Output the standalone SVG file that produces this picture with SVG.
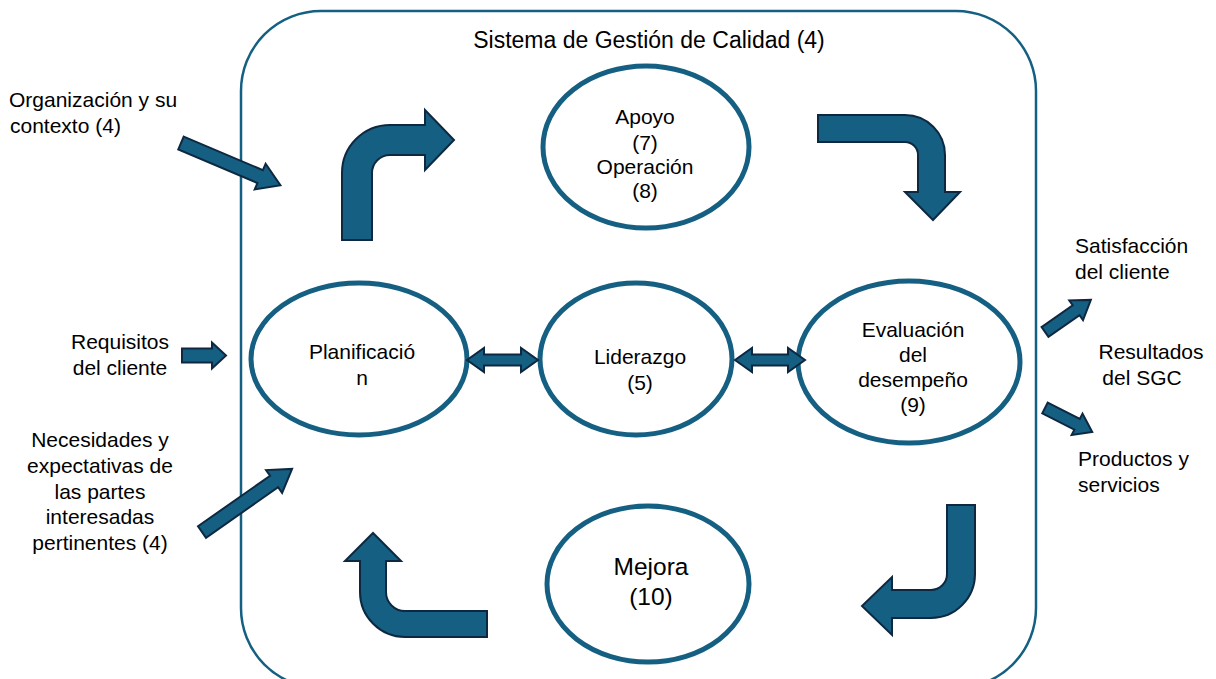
<svg xmlns="http://www.w3.org/2000/svg" width="1216" height="679" viewBox="0 0 1216 679">
<style>
.t{font-family:"Liberation Sans",Arial,sans-serif;font-size:21px;fill:#000}
.c{text-anchor:middle}
.e{fill:#fff;stroke:#156082;stroke-width:5}
.a{fill:#156082;stroke:#0e2841;stroke-width:2;stroke-linejoin:miter}
</style>
<rect width="1216" height="679" fill="#fff"/>
<g id="sistema">
<rect x="241" y="11" width="795" height="677" rx="80" ry="80" fill="none" stroke="#156082" stroke-width="2.5"/>
<text class="t c" x="649" y="48" style="font-size:23px">Sistema de Gestión de Calidad (4)</text>
</g>
<g id="apoyo">
<ellipse class="e" cx="646" cy="147" rx="103" ry="81"/>
<text class="t c" x="645" y="124">Apoyo</text>
<text class="t c" x="645" y="150">(7)</text>
<text class="t c" x="645" y="174">Operación</text>
<text class="t c" x="645" y="198">(8)</text>
</g>
<g id="planificacion">
<ellipse class="e" cx="359" cy="359" rx="108" ry="76"/>
<text class="t c" x="362" y="359">Planificació</text>
<text class="t c" x="362" y="385">n</text>
</g>
<g id="liderazgo">
<ellipse class="e" cx="636" cy="359" rx="96" ry="76"/>
<text class="t c" x="640" y="364">Liderazgo</text>
<text class="t c" x="640" y="390">(5)</text>
</g>
<g id="evaluacion">
<ellipse class="e" cx="909" cy="362" rx="111" ry="81"/>
<text class="t c" x="913" y="337">Evaluación</text>
<text class="t c" x="913" y="362">del</text>
<text class="t c" x="913" y="387">desempeño</text>
<text class="t c" x="913" y="412">(9)</text>
</g>
<g id="mejora">
<ellipse class="e" cx="648" cy="584" rx="101" ry="78"/>
<text class="t c" x="651" y="575" style="font-size:24.5px">Mejora</text>
<text class="t c" x="651" y="605" style="font-size:24.5px">(10)</text>
</g>
<g id="entradas">
<text class="t" x="9" y="107">Organización y su</text>
<text class="t" x="10" y="133">contexto (4)</text>
<text class="t c" x="120" y="349">Requisitos</text>
<text class="t c" x="120" y="375">del cliente</text>
<text class="t c" x="100" y="447">Necesidades y</text>
<text class="t c" x="100" y="473">expectativas de</text>
<text class="t c" x="100" y="499">las partes</text>
<text class="t c" x="100" y="524">interesadas</text>
<text class="t c" x="100" y="550">pertinentes (4)</text>
</g>
<g id="salidas">
<text class="t" x="1075" y="253">Satisfacción</text>
<text class="t" x="1075" y="279">del cliente</text>
<text class="t c" x="1151" y="359">Resultados</text>
<text class="t c" x="1142" y="385">del SGC</text>
<text class="t" x="1078" y="466">Productos y</text>
<text class="t" x="1078" y="492">servicios</text>
</g>
<g id="conectores">
<path class="a" d="M342,240 L342,173 A48,48 0 0 1 390,125 L425,125 L425,110 L454,140 L425,170 L425,155 L390,155 A18,18 0 0 0 372,173 L372,240 Z"/>
<path class="a" d="M818,115 L905,115 A40,40 0 0 1 945,155 L945,192 L960,192 L933,220 L905,192 L918,192 L918,155 A13,13 0 0 0 905,142 L818,142 Z"/>
<path class="a" d="M947,505 L975,505 L975,574 A44,44 0 0 1 931,618 L892,618 L892,635 L862,606 L892,577 L892,590 L931,590 A16,16 0 0 0 947,574 Z"/>
<path class="a" d="M487,611 L487,637 L405,637 A45,45 0 0 1 360,592 L360,561 L345,561 L373,533 L401,561 L386,561 L386,592 A19,19 0 0 0 405,611 Z"/>
<path class="a" transform="translate(181,143) rotate(23)" d="M0,-7 L86,-7 L86,-14 L108,0 L86,14 L86,7 L0,7 Z"/>
<path class="a" transform="translate(182,355.5)" d="M0,-7 L30,-7 L30,-13 L44,0 L30,13 L30,7 L0,7 Z"/>
<path class="a" transform="translate(202,532) rotate(-35)" d="M0,-7 L88,-7 L88,-14 L110,0 L88,14 L88,7 L0,7 Z"/>
<path class="a" transform="translate(1045,332) rotate(-35)" d="M0,-6 L38,-6 L38,-12 L56,0 L38,12 L38,6 L0,6 Z"/>
<path class="a" transform="translate(1045,408) rotate(27)" d="M0,-6 L36,-6 L36,-12 L53,0 L36,12 L36,6 L0,6 Z"/>
<path class="a" d="M467,360 L484,348 L484,354.5 L521,354.5 L521,348 L538,360 L521,372 L521,365.5 L484,365.5 L484,372 Z"/>
<path class="a" d="M735,360 L752,348 L752,354.5 L788,354.5 L788,348 L805,360 L788,372 L788,365.5 L752,365.5 L752,372 Z"/>
</g>
</svg>
